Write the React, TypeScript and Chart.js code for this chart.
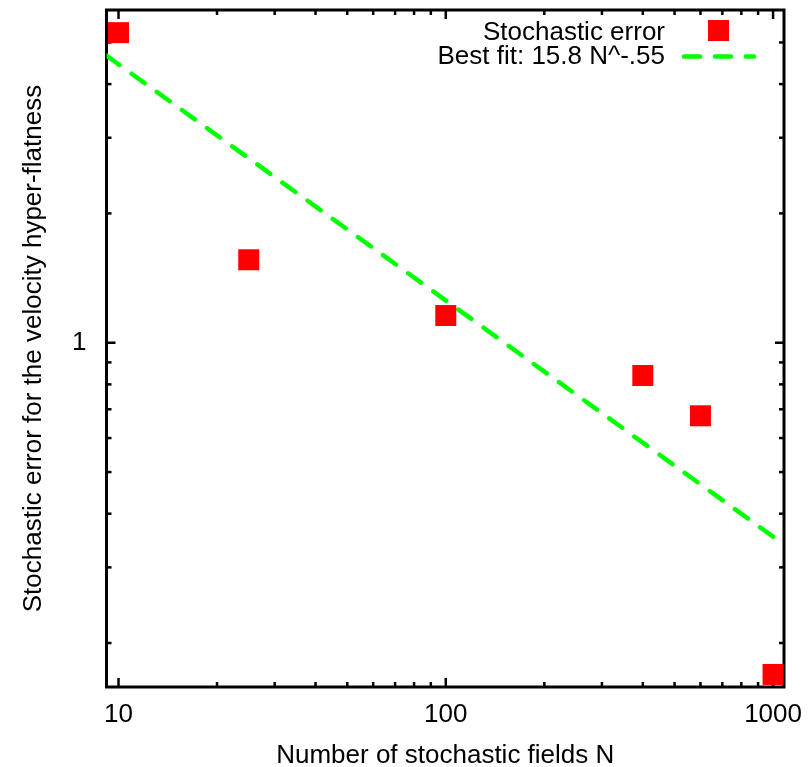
import { useEffect, useRef } from 'react';
import { Chart, registerables } from 'chart.js';

Chart.register(...registerables);

// ---- data ----
const nValues = [10, 25, 100, 400, 600, 1000];
const errorValues = [5.27, 1.56, 1.157, 0.839, 0.676, 0.169];
const fitN = [9.19, 1080];
const fitValues = [4.66, 0.339];
const xMajorTicks = [10, 100, 1000];
const xMinorTicks = [20, 30, 40, 50, 60, 70, 80, 90, 200, 300, 400, 500, 600, 700, 800, 900];
const yMajorTicks = [1];
const yMinorTicks = [0.2, 0.3, 0.4, 0.5, 0.6, 0.7, 0.8, 0.9, 2, 3, 4, 5];
const xRange = [9.19, 1080];
const yRange = [0.158, 5.95];
const seriesLabels = ['Stochastic error', 'Best fit: 15.8 N^-.55'];
const xTitle = 'Number of stochastic fields N';
const yTitle = 'Stochastic error for the velocity hyper-flatness';

const FONT = "'Liberation Sans', Arial, Helvetica, sans-serif";
const FONT_SIZE = 26;
const RED = '#ff0000';
const GREEN = '#00ff00';
const DASH = [16, 15];

const framePlugin = {
  id: 'gnuFrame',
  beforeDatasetsDraw(chart: any) {
    const { ctx, chartArea } = chart;
    const { left, right, top, bottom } = chartArea;
    const xs = chart.scales.x;
    const ys = chart.scales.y;
    ctx.save();
    ctx.strokeStyle = '#000';
    ctx.lineWidth = 2.5;
    ctx.lineCap = 'butt';
    const tick = (x1: number, y1: number, x2: number, y2: number) => {
      ctx.beginPath();
      ctx.moveTo(x1, y1);
      ctx.lineTo(x2, y2);
      ctx.stroke();
    };
    const drawX = (vals: number[], len: number) => {
      vals.forEach((v) => {
        const p = xs.getPixelForValue(v);
        tick(p, bottom, p, bottom - len);
        tick(p, top, p, top + len);
      });
    };
    const drawY = (vals: number[], len: number) => {
      vals.forEach((v) => {
        const p = ys.getPixelForValue(v);
        tick(left, p, left + len, p);
        tick(right, p, right - len, p);
      });
    };
    drawX(xMajorTicks, 9);
    drawX(xMinorTicks, 5);
    drawY(yMajorTicks, 9);
    drawY(yMinorTicks, 5);
    ctx.lineWidth = 3;
    ctx.strokeRect(left, top, right - left, bottom - top);
    ctx.restore();
  },
};

const legendPlugin = {
  id: 'gnuLegend',
  afterDraw(chart: any) {
    const { ctx, chartArea } = chart;
    const { right, top } = chartArea;
    const ds = chart.data.datasets;
    ctx.save();
    ctx.font = `${FONT_SIZE}px ${FONT}`;
    ctx.fillStyle = '#000';
    ctx.textAlign = 'right';
    ctx.textBaseline = 'alphabetic';
    const textX = right - 119;
    ctx.fillText(ds[0].label, textX, top + 30);
    ctx.fillText(ds[1].label, textX, top + 54);
    // red square sample
    ctx.fillStyle = ds[0].backgroundColor;
    ctx.fillRect(right - 76, top + 10, 21, 21);
    // dashed line sample
    ctx.strokeStyle = ds[1].borderColor;
    ctx.lineWidth = ds[1].borderWidth;
    ctx.lineCap = 'round';
    ctx.setLineDash(ds[1].borderDash);
    ctx.beginPath();
    ctx.moveTo(right - 100, top + 46.5);
    ctx.lineTo(right - 30, top + 46.5);
    ctx.stroke();
    ctx.restore();
  },
};

const zeroPadding = (s: any) => {
  s.paddingTop = 0;
  s.paddingBottom = 0;
  s.paddingLeft = 0;
  s.paddingRight = 0;
};

export default function App() {
  const ref = useRef<HTMLCanvasElement | null>(null);

  useEffect(() => {
    if (!ref.current) return;
    const chart = new Chart(ref.current, {
      type: 'scatter',
      data: {
        datasets: [
          {
            label: seriesLabels[0],
            data: nValues.map((x, i) => ({ x, y: errorValues[i] })),
            pointStyle: 'rect',
            pointRadius: 14.85,
            pointHoverRadius: 14.85,
            backgroundColor: RED,
            borderColor: RED,
            borderWidth: 0,
            showLine: false,
            clip: false,
          } as any,
          {
            label: seriesLabels[1],
            data: fitN.map((x, i) => ({ x, y: fitValues[i] })),
            showLine: true,
            borderColor: GREEN,
            backgroundColor: GREEN,
            borderWidth: 4.5,
            borderDash: DASH,
            borderCapStyle: 'round',
            pointRadius: 0,
            fill: false,
          } as any,
        ],
      },
      options: {
        responsive: false,
        animation: false,
        devicePixelRatio: 1,
        layout: { autoPadding: false, padding: { top: 10, right: 25, left: 0, bottom: 0 } },
        plugins: {
          legend: { display: false },
          tooltip: { enabled: false },
        },
        scales: {
          x: {
            type: 'logarithmic',
            min: xRange[0],
            max: xRange[1],
            grid: { display: false, drawTicks: false },
            border: { display: false },
            afterBuildTicks: (s: any) => {
              s.ticks = xMajorTicks.map((v) => ({ value: v }));
            },
            afterFit: (s: any) => {
              s.height = 80;
              zeroPadding(s);
            },
            ticks: {
              autoSkip: false,
              maxRotation: 0,
              padding: 12,
              color: '#000',
              font: { family: FONT, size: FONT_SIZE },
              callback: (v: any) => String(v),
            },
            title: {
              display: true,
              text: xTitle,
              color: '#000',
              font: { family: FONT, size: FONT_SIZE },
              padding: { top: 0, bottom: -4 },
            },
          },
          y: {
            type: 'logarithmic',
            min: yRange[0],
            max: yRange[1],
            grid: { display: false, drawTicks: false },
            border: { display: false },
            afterBuildTicks: (s: any) => {
              s.ticks = yMajorTicks.map((v) => ({ value: v }));
            },
            afterFit: (s: any) => {
              s.width = 106.5;
              zeroPadding(s);
            },
            ticks: {
              autoSkip: false,
              padding: 20,
              color: '#000',
              font: { family: FONT, size: FONT_SIZE },
              callback: (v: any) => String(v),
            },
            title: {
              display: true,
              text: yTitle,
              color: '#000',
              font: { family: FONT, size: FONT_SIZE },
              padding: { top: 18, bottom: 0 },
            },
          },
        },
      } as any,
      plugins: [framePlugin, legendPlugin],
    });
    return () => chart.destroy();
  }, []);

  return (
    <div style={{ position: 'absolute', left: 0, top: 0, width: 809, height: 767, background: '#fff' }}>
      <canvas ref={ref} width={809} height={767} style={{ display: 'block' }} />
    </div>
  );
}
